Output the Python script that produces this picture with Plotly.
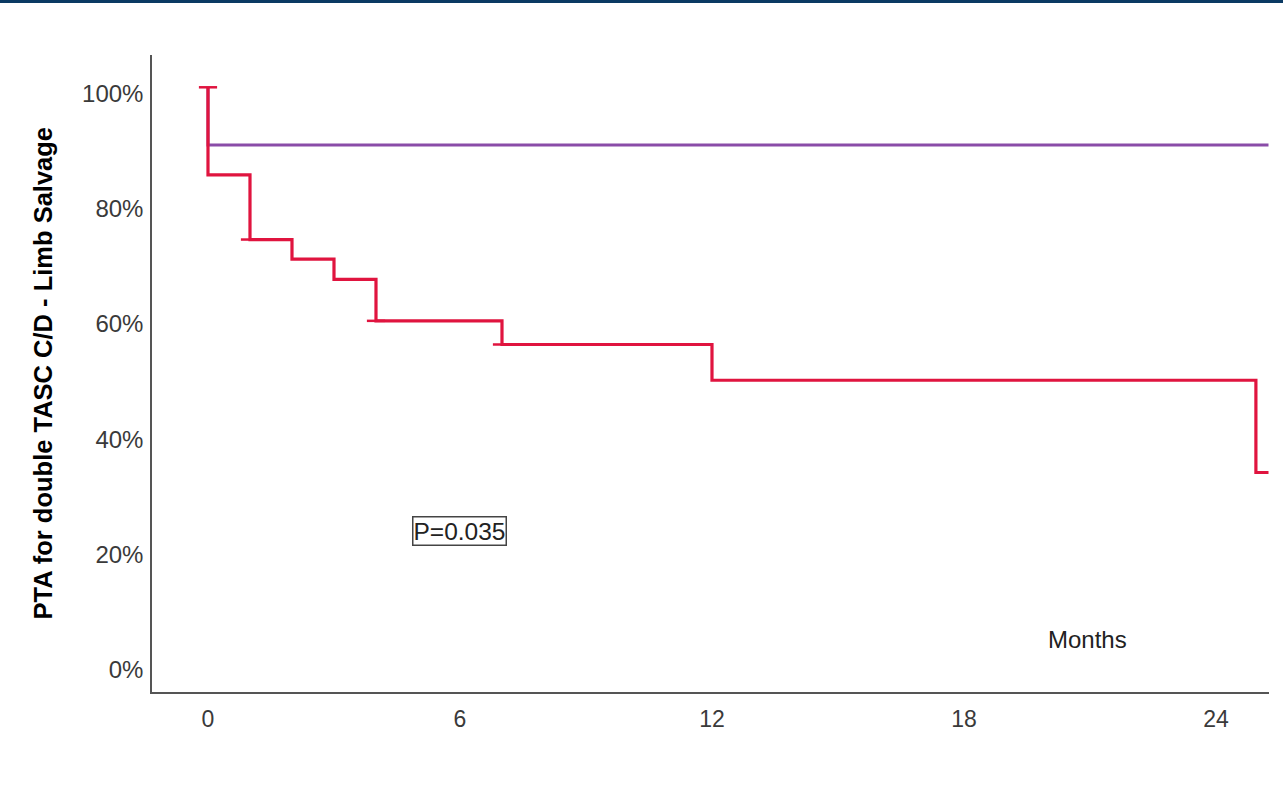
import plotly.graph_objects as go

# Kaplan-Meier estimates (months, % limb salvage)
red_times = [0, 0, 1, 2, 3, 4, 7, 12, 24.95]
red_surv = [100, 84.8, 73.6, 70.2, 66.7, 59.5, 55.4, 49.2, 33.2]
red_cens_times = [0, 1, 4, 7]
red_cens_surv = [100, 73.6, 59.5, 55.4]

purple_times = [0, 0]
purple_surv = [100, 90]

follow_up_end = 25.25

x_ticks = [0, 6, 12, 18, 24]
y_ticks = [0, 20, 40, 60, 80, 100]
y_tick_text = ["0%", "20%", "40%", "60%", "80%", "100%"]

p_value_text = "P=0.035"

RED = "#E0143F"
PURPLE = "#8A4CA8"
FONT = "Liberation Sans, Arial, sans-serif"

fig = go.Figure()

fig.add_trace(go.Scatter(
    x=purple_times + [follow_up_end],
    y=purple_surv + [purple_surv[-1]],
    mode="lines", line=dict(color=PURPLE, width=3, shape="hv"),
    showlegend=False, hoverinfo="skip",
))
fig.add_trace(go.Scatter(
    x=red_times + [follow_up_end],
    y=red_surv + [red_surv[-1]],
    mode="lines", line=dict(color=RED, width=3.2, shape="hv"),
    showlegend=False, hoverinfo="skip",
))
fig.add_trace(go.Scatter(
    x=red_cens_times, y=red_cens_surv, mode="markers",
    marker=dict(symbol="line-ew", size=13, line=dict(color=RED, width=2.5)),
    showlegend=False, hoverinfo="skip",
))

W, H = 1283, 807
ML, MR, MT, MB = 152, 14, 55, 115
pw, ph = W - ML - MR, H - MT - MB

fig.update_layout(
    width=W, height=H,
    margin=dict(l=ML, r=MR, t=MT, b=MB, pad=0),
    paper_bgcolor="white", plot_bgcolor="white",
    font=dict(family=FONT, size=23, color="#333333"),
    xaxis=dict(
        range=[-1.333, 25.262], tickvals=x_ticks,
        showgrid=False, zeroline=False,
        showline=True, linecolor="#555555", linewidth=1.5,
        ticks="outside", ticklen=6, tickcolor="rgba(0,0,0,0)",
        tickfont=dict(size=23, color="#3a3a3a"),
    ),
    yaxis=dict(
        range=[-4.86, 105.6], tickvals=y_ticks, ticktext=y_tick_text,
        showgrid=False, zeroline=False,
        showline=True, linecolor="#555555", linewidth=1.5,
        ticks="outside", ticklen=2, tickcolor="rgba(0,0,0,0)",
        ticklabelshift=6,
        tickfont=dict(size=24, color="#3a3a3a"),
    ),
    shapes=[dict(
        type="rect", xref="paper", yref="paper",
        x0=-ML / pw, x1=1 + MR / pw,
        y0=1 + (MT - 3) / ph, y1=1 + MT / ph,
        line=dict(width=0), fillcolor="#0B3A63",
    )],
    annotations=[
        dict(
            text="PTA for double TASC C/D - Limb Salvage",
            xref="paper", yref="paper", x=-110 / pw, y=0.5,
            xanchor="center", yanchor="middle", textangle=-90,
            showarrow=False,
            font=dict(family=FONT, size=25.5, color="#000000", weight="bold"),
        ),
        dict(
            text=p_value_text, x=6.0, y=23.1, xref="x", yref="y",
            showarrow=False, bordercolor="#444444", borderwidth=1.5,
            borderpad=0, bgcolor="white",
            font=dict(family=FONT, size=24.5, color="#222222"),
        ),
        dict(
            text="Months", x=20.93, y=4.2, xref="x", yref="y",
            showarrow=False,
            font=dict(family=FONT, size=24, color="#222222"),
        ),
    ],
)

fig.write_html("out.html")
